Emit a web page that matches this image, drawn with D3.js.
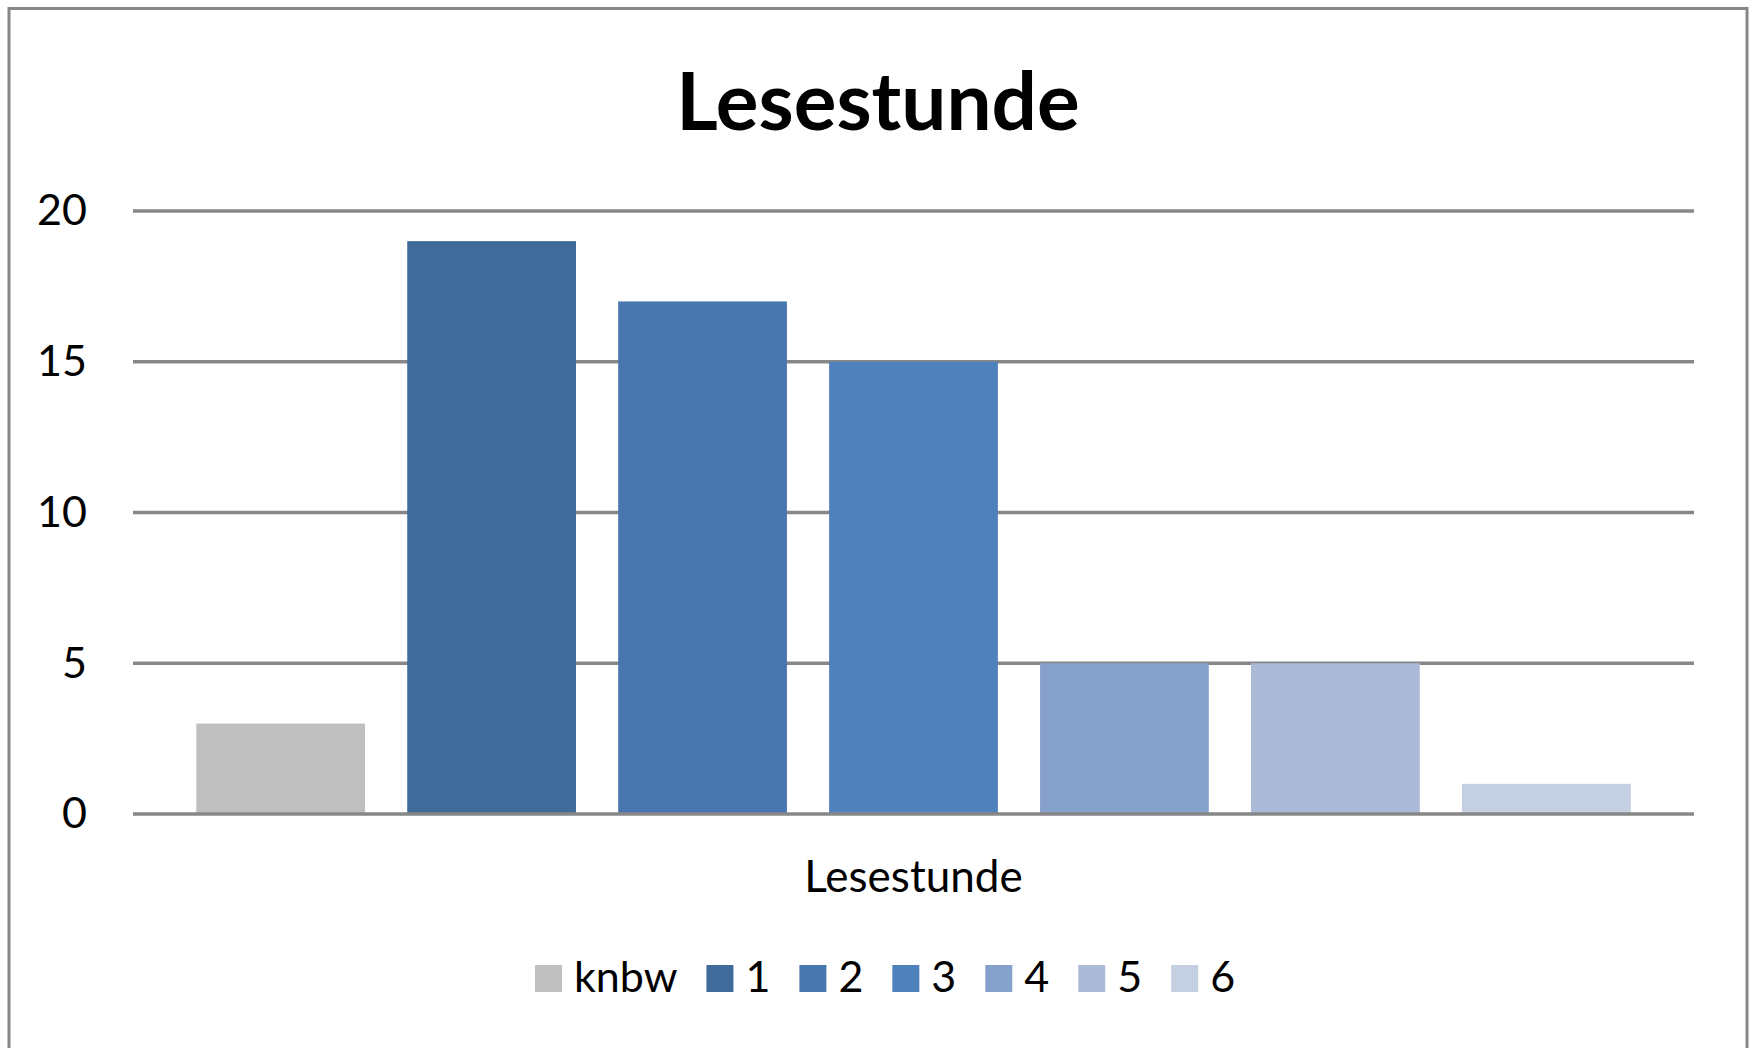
<!DOCTYPE html>
<html>
<head>
<meta charset="utf-8">
<script src="https://cdn.jsdelivr.net/npm/d3@7"></script>
<style>
  html, body { margin: 0; padding: 0; background: #fff; }
  svg { display: block; }
</style>
</head>
<body>
<svg id="chart" width="1756" height="1048"></svg>
<script>
// ---- data ----
const chartTitle = "Lesestunde";
const categoryLabel = "Lesestunde";
const seriesNames = ["knbw", "1", "2", "3", "4", "5", "6"];
const seriesValues = [3, 19, 17, 15, 5, 5, 1];
const seriesColors = ["#BFBFBF", "#406A9A", "#4877AF", "#4F81BD", "#86A2CC", "#AABAD7", "#C4D0E2"];
const yTicks = [0, 5, 10, 15, 20];

// ---- layout ----
const W = 1756, H = 1048;
const plot = { left: 133, right: 1694, top: 211, bottom: 814 };
const svg = d3.select("#chart");
const fontMain = "Lato, 'Open Sans', sans-serif";
const gridColor = "#878787";

// outer frame
svg.append("rect")
  .attr("x", 9).attr("y", 8.5)
  .attr("width", 1738).attr("height", 1100)
  .attr("fill", "#fff")
  .attr("stroke", gridColor).attr("stroke-width", 3);

const x = d3.scaleBand()
  .domain(seriesNames)
  .range([plot.left, plot.right])
  .paddingInner(0.2)
  .paddingOuter(0.3);

const y = d3.scaleLinear()
  .domain([0, 20])
  .range([plot.bottom, plot.top]);

// gridlines (not zero)
svg.append("g").selectAll("line")
  .data(yTicks.filter(d => d !== 0))
  .join("line")
  .attr("x1", plot.left).attr("x2", plot.right)
  .attr("y1", d => y(d)).attr("y2", d => y(d))
  .attr("stroke", gridColor).attr("stroke-width", 3.6);

// bars
svg.append("g").selectAll("rect")
  .data(seriesNames.map((n, i) => ({ name: n, value: seriesValues[i], color: seriesColors[i] })))
  .join("rect")
  .attr("x", d => x(d.name))
  .attr("width", x.bandwidth())
  .attr("y", d => y(d.value))
  .attr("height", d => y(0) - y(d.value))
  .attr("fill", d => d.color);

// zero axis line on top
svg.append("line")
  .attr("x1", plot.left).attr("x2", plot.right)
  .attr("y1", y(0)).attr("y2", y(0))
  .attr("stroke", gridColor).attr("stroke-width", 3.6);

// y axis labels
const yAxis = d3.axisLeft(y).tickValues(yTicks).tickSize(0).tickPadding(46);
const gy = svg.append("g").attr("transform", `translate(${plot.left},0)`).call(yAxis);
gy.select(".domain").remove();
gy.selectAll("text")
  .attr("font-family", fontMain)
  .attr("font-size", 43)
  .attr("fill", "#000");

// title
svg.append("text")
  .attr("x", 878).attr("y", 130)
  .attr("text-anchor", "middle")
  .attr("font-family", fontMain)
  .attr("font-weight", "bold")
  .attr("font-size", 80)
  .attr("fill", "#000")
  .text(chartTitle);

// category axis label
svg.append("text")
  .attr("x", (plot.left + plot.right) / 2).attr("y", 892)
  .attr("text-anchor", "middle")
  .attr("font-family", fontMain)
  .attr("font-size", 44)
  .attr("fill", "#000")
  .text(categoryLabel);

// legend
const legend = svg.append("g");
let lx = 535;
const sq = 27, ly = 965;
seriesNames.forEach((n, i) => {
  legend.append("rect")
    .attr("x", lx).attr("y", ly)
    .attr("width", sq).attr("height", sq)
    .attr("fill", seriesColors[i]);
  const t = legend.append("text")
    .attr("x", lx + sq + 12).attr("y", ly + sq)
    .attr("font-family", fontMain)
    .attr("font-size", 43)
    .attr("fill", "#000")
    .text(n);
  const w = t.node().getComputedTextLength();
  lx += sq + 12 + w + 29;
});
</script>
</body>
</html>
